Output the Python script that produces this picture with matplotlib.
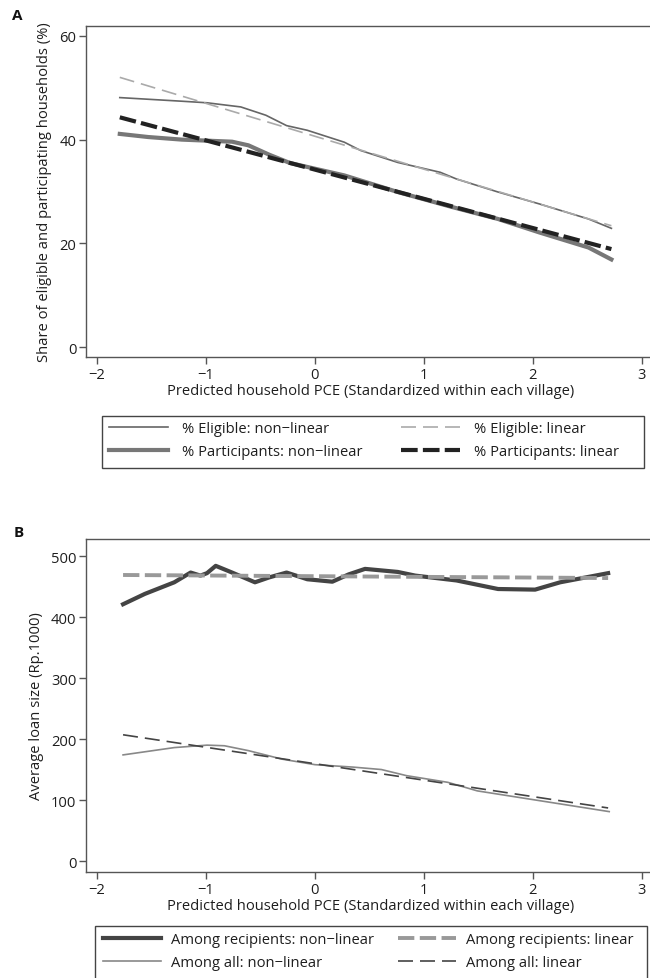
import matplotlib
matplotlib.use("Agg")
import matplotlib.pyplot as plt
from matplotlib.patches import Rectangle

plt.rcParams['font.family'] = ['Open Sans', 'DejaVu Sans']

# ---------------- Panel A data ----------------
a_elig_nl_x = [-1.79, -1.22, -0.99, -0.68, -0.45, -0.26, -0.07, 0.27, 0.42, 0.76, 1.15, 1.30, 1.68, 2.06, 2.51, 2.72]
a_elig_nl_y = [48.1, 47.4, 47.1, 46.3, 44.7, 42.7, 41.8, 39.5, 37.9, 35.6, 33.7, 32.4, 29.9, 27.6, 24.7, 22.9]
a_elig_lin_x = [-1.79, 2.72]
a_elig_lin_y = [52.0, 23.4]
a_part_nl_x = [-1.79, -1.53, -1.22, -0.99, -0.76, -0.61, -0.42, -0.23, 0.27, 0.76, 1.26, 1.68, 2.06, 2.51, 2.72]
a_part_nl_y = [41.1, 40.5, 40.0, 39.8, 39.6, 38.9, 37.1, 35.5, 33.1, 29.9, 27.0, 24.7, 22.1, 19.2, 16.9]
a_part_lin_x = [-1.79, 2.72]
a_part_lin_y = [44.3, 18.9]

# ---------------- Panel B data ----------------
b_rec_nl_x = [-1.76, -1.56, -1.29, -1.14, -1.05, -0.99, -0.91, -0.76, -0.55, -0.42, -0.26, -0.07, 0.16, 0.31, 0.46, 0.76, 0.92, 1.30, 1.68, 2.02, 2.25, 2.69]
b_rec_nl_y = [421, 438, 457, 473, 468, 472, 484, 473, 457, 465, 473, 462, 458, 470, 479, 474, 468, 460, 446, 445, 457, 472]
b_rec_lin_x = [-1.76, 2.69]
b_rec_lin_y = [469, 464]
b_all_nl_x = [-1.76, -1.29, -0.99, -0.83, -0.61, -0.30, 0.0, 0.35, 0.61, 0.84, 1.22, 1.49, 2.06, 2.70]
b_all_nl_y = [174, 186, 190, 189, 181, 167, 158, 154, 150, 140, 129, 115, 99, 81]
b_all_lin_x = [-1.76, 2.69]
b_all_lin_y = [207, 87]

x_ticks = [-2, -1, 0, 1, 2, 3]
a_yticks = [0, 20, 40, 60]
b_yticks = [0, 100, 200, 300, 400, 500]

xlabel = "Predicted household PCE (Standardized within each village)"
a_ylabel = "Share of eligible and participating households (%)"
b_ylabel = "Average loan size (Rp.1000)"

W, H = 650, 979
fig = plt.figure(figsize=(W / 100, H / 100), dpi=100)

FS = 10.6
TXT = '#1e1e1e'
SP = '#555555'

def style(ax, yticks, ylim):
    ax.set_xlim(-2.10, 3.12)
    ax.set_ylim(*ylim)
    ax.set_xticks(x_ticks)
    ax.set_yticks(yticks)
    for s in ax.spines.values():
        s.set_color(SP)
        s.set_linewidth(1.0)
    ax.tick_params(direction='out', length=5, width=1.0, color=SP,
                   labelsize=FS, labelcolor=TXT, pad=2)
    ax.set_xlabel(xlabel, fontsize=FS, color=TXT, labelpad=1)

left = 86 / W
width = 569 / W

def make_legend(ax, handles, labels, hx, ytop, hl, htp, cs, box):
    leg = ax.legend(handles, labels, ncol=2, loc='upper left',
                    bbox_to_anchor=(hx / W, 1 - ytop / H),
                    bbox_transform=fig.transFigure, frameon=False,
                    fontsize=FS, handlelength=hl, handletextpad=htp, columnspacing=cs,
                    borderpad=0, labelspacing=0.55, borderaxespad=0)
    for t in leg.get_texts():
        t.set_color(TXT)
    x0, x1, y0, y1 = box
    fig.patches.append(Rectangle((x0 / W, 1 - y1 / H), (x1 - x0) / W, (y1 - y0) / H,
                                 transform=fig.transFigure, fill=False,
                                 edgecolor='#444444', linewidth=1.0))
    return leg

# Panel A
axA = fig.add_axes([left, 1 - 358 / H, width, 331 / H])
style(axA, a_yticks, (-1.9, 61.9))
axA.set_ylabel(a_ylabel, fontsize=FS, color=TXT, labelpad=5)
l1, = axA.plot(a_elig_nl_x, a_elig_nl_y, color='#666666', lw=1.2)
l3, = axA.plot(a_elig_lin_x, a_elig_lin_y, color='#aaaaaa', lw=1.2, dashes=(9, 4.2))
l2, = axA.plot(a_part_nl_x, a_part_nl_y, color='#777777', lw=3.0)
l4, = axA.plot(a_part_lin_x, a_part_lin_y, color='#222222', lw=3.0, dashes=(4.0, 1.25))
make_legend(axA, [l1, l2, l3, l4],
            ["% Eligible: non\u2212linear", "% Participants: non\u2212linear",
             "% Eligible: linear", "% Participants: linear"],
            109, 422, 4.0, 0.95, 2.65, (102, 644, 417, 469))

# Panel B
axB = fig.add_axes([left, 1 - 873 / H, width, 333 / H])
style(axB, b_yticks, (-18, 528))
axB.set_ylabel(b_ylabel, fontsize=FS, color=TXT, labelpad=5)
m1, = axB.plot(b_rec_nl_x, b_rec_nl_y, color='#444444', lw=3.0)
m2, = axB.plot(b_rec_lin_x, b_rec_lin_y, color='#999999', lw=2.8, dashes=(4.2, 1.4))
m3, = axB.plot(b_all_nl_x, b_all_nl_y, color='#888888', lw=1.2)
m4, = axB.plot(b_all_lin_x, b_all_lin_y, color='#444444', lw=1.2, dashes=(9, 4.2))
make_legend(axB, [m1, m3, m2, m4],
            ["Among recipients: non\u2212linear", "Among all: non\u2212linear",
             "Among recipients: linear", "Among all: linear"],
            103, 933, 3.95, 0.68, 1.6, (95, 647, 927, 992))

fig.text(17 / W, 1 - 16 / H, "A", fontsize=11, fontweight='bold', color='#111111', va='center', ha='center')
fig.text(19 / W, 1 - 533 / H, "B", fontsize=11, fontweight='bold', color='#111111', va='center', ha='center')

fig.savefig("out.png", dpi=100)
